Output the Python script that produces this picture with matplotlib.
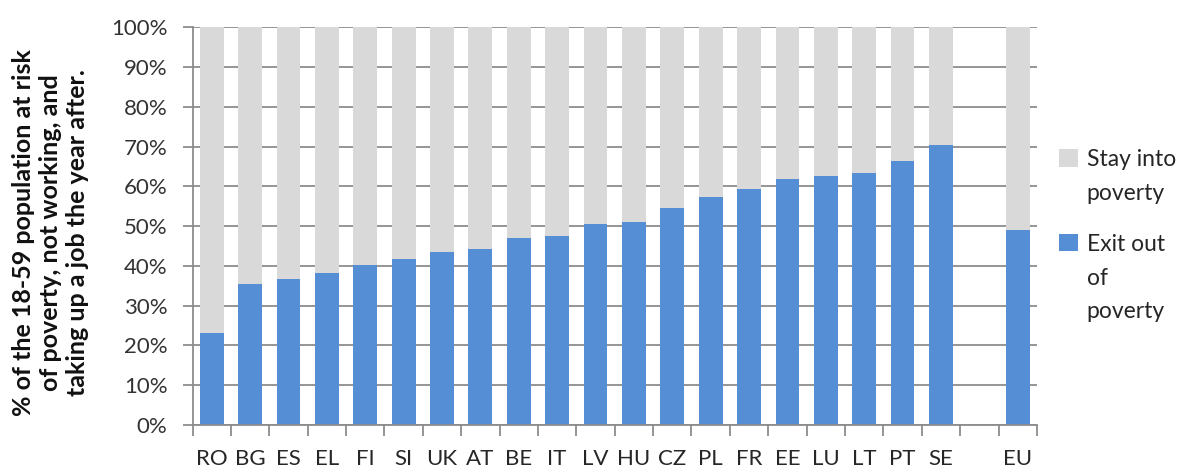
import numpy as np
import matplotlib.pyplot as plt
from matplotlib.ticker import PercentFormatter, FixedLocator

countries = ['RO', 'BG', 'ES', 'EL', 'FI', 'SI', 'UK', 'AT', 'BE', 'IT',
             'LV', 'HU', 'CZ', 'PL', 'FR', 'EE', 'LU', 'LT', 'PT', 'SE', '', 'EU']
exit_pct = [23.0, 35.4, 36.6, 38.2, 40.1, 41.8, 43.4, 44.2, 47.1, 47.4,
            50.6, 51.0, 54.6, 57.4, 59.4, 61.8, 62.6, 63.4, 66.3, 70.3, 0.0, 49.0]
has_bar = [c != '' for c in countries]

exit_pct = np.array(exit_pct)
has_bar = np.array(has_bar)
stay_pct = np.where(has_bar, 100.0 - exit_pct, 0.0)

blue = '#558ED5'
grey = '#D9D9D9'
axis_col = '#8C8C8C'

plt.rcParams['font.family'] = ['Lato', 'DejaVu Sans']

fig = plt.figure(figsize=(11.81, 4.69), dpi=100)
ax = fig.add_axes([0.163, 0.094, 0.715, 0.848])

x = np.arange(len(countries))
w = 0.62
b1 = ax.bar(x[has_bar], exit_pct[has_bar], width=w, color=blue, zorder=3)
b2 = ax.bar(x[has_bar], stay_pct[has_bar], width=w, bottom=exit_pct[has_bar],
            color=grey, zorder=3)

ax.set_xlim(-0.5, len(countries) - 0.5)
ax.set_ylim(0, 100)
ax.yaxis.set_major_locator(FixedLocator(np.arange(0, 101, 10)))
ax.yaxis.set_major_formatter(PercentFormatter(decimals=0))
ax.grid(axis='y', color=axis_col, linewidth=1.3, zorder=0)

ax.set_xticks(x)
ax.set_xticklabels(countries)
ax.set_xticks(np.arange(-0.5, len(countries)), minor=True)
ax.tick_params(axis='x', which='major', length=0, pad=17, labelsize=16, colors='#262626')
ax.tick_params(axis='x', which='minor', length=8, width=1.3, color=axis_col)
ax.tick_params(axis='y', length=7, width=1.3, color=axis_col, labelsize=16,
               labelcolor='#333333', pad=11)

for s in ['top', 'right']:
    ax.spines[s].set_visible(False)
for s in ['left', 'bottom']:
    ax.spines[s].set_color(axis_col)
    ax.spines[s].set_linewidth(1.3)
    ax.spines[s].set_zorder(4)

fig.text(0.0425, 0.505, '% of the 18-59 population at risk\nof poverty, not working, and\ntaking up a job the year after.',
         rotation=90, ha='center', va='center', fontsize=18, fontweight='bold',
         linespacing=1.22, multialignment='center', color='#111111')

leg = fig.legend([b2, b1], ['Stay into\npoverty', 'Exit out\nof\npoverty'],
                 loc='center left', bbox_to_anchor=(0.897, 0.497), frameon=False,
                 borderpad=0, borderaxespad=0,
                 fontsize=16.5, handlelength=0.8, handleheight=0.8, handletextpad=0.4,
                 labelspacing=1.3)
for t in leg.get_texts():
    t.set_linespacing(1.75)
    t.set_color('#262626')
# put each colour box next to the first line of its label
for col in leg._legend_handle_box.get_children():
    for item in col.get_children():
        item.align = 'top'

fig.savefig('out.png', dpi=100)
